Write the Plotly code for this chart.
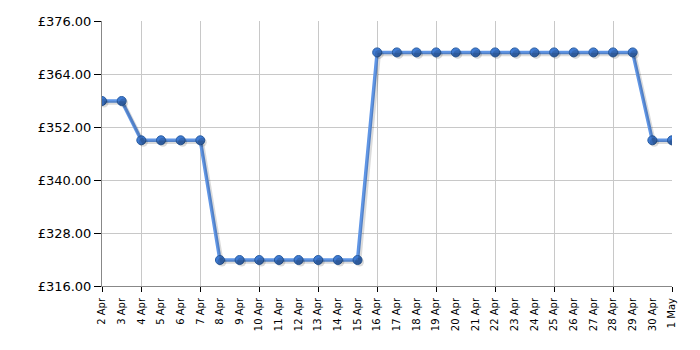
import plotly.graph_objects as go

dates = ["2 Apr", "3 Apr", "4 Apr", "5 Apr", "6 Apr", "7 Apr", "8 Apr", "9 Apr", "10 Apr",
         "11 Apr", "12 Apr", "13 Apr", "14 Apr", "15 Apr", "16 Apr", "17 Apr", "18 Apr",
         "19 Apr", "20 Apr", "21 Apr", "22 Apr", "23 Apr", "24 Apr", "25 Apr", "26 Apr",
         "27 Apr", "28 Apr", "29 Apr", "30 Apr", "1 May"]
prices = [357.89, 357.89, 348.99, 348.99, 348.99, 348.99, 321.89, 321.89, 321.89,
          321.89, 321.89, 321.89, 321.89, 321.89, 368.89, 368.89, 368.89, 368.89,
          368.89, 368.89, 368.89, 368.89, 368.89, 368.89, 368.89, 368.89, 368.89,
          368.89, 348.99, 348.99]
y_ticks = [316, 328, 340, 352, 364, 376]

idx = list(range(len(dates)))
grid_idx = [i for i in idx if i % 3 == 2 or i == 0]

W, H = 700, 350
ML, MR, MT, MB = 102, 28, 21, 64
pw, ph = W - ML - MR, H - MT - MB
xr = [0, len(dates) - 1]
yr = [316, 376]
# shadow offset (pixels)
dx = 2.0 * (xr[1] - xr[0]) / pw
dy = 2.0 * (yr[1] - yr[0]) / ph

fig = go.Figure()
fig.add_trace(go.Scatter(
    x=idx, y=prices, mode="lines+markers", xaxis="x2", yaxis="y2",
    line=dict(color="rgba(0,0,0,0.14)", width=3.5),
    marker=dict(size=9, color="rgba(0,0,0,0.14)"),
    hoverinfo="skip"))
fig.add_trace(go.Scatter(
    x=idx, y=prices, mode="lines+markers",
    line=dict(color="#6096e6", width=3.5),
    marker=dict(size=9, color="#3f7bd3", line=dict(color="#2c5fa3", width=1)),
    hoverinfo="skip"))

fig.update_layout(
    width=W, height=H,
    margin=dict(l=ML, r=MR, t=MT, b=MB),
    paper_bgcolor="white", plot_bgcolor="white",
    showlegend=False,
    font=dict(family="DejaVu Sans", color="#000000"),
    xaxis=dict(
        range=xr,
        tickmode="array", tickvals=idx, ticktext=dates,
        tickangle=-90, tickfont=dict(size=10, family="DejaVu Sans"),
        ticks="", showgrid=False, ticklabelstandoff=7,
        showline=True, linecolor="#888888", linewidth=1,
        minor=dict(tickmode="array", tickvals=grid_idx, showgrid=True,
                   gridcolor="#c8c8c8", gridwidth=1,
                   ticks="outside", ticklen=5, tickcolor="#000000"),
        zeroline=False,
    ),
    yaxis=dict(
        range=yr, tickmode="array", tickvals=y_ticks,
        ticktext=["£%.2f" % v for v in y_ticks],
        tickfont=dict(size=13, family="DejaVu Sans"),
        ticks="outside", ticklen=7, tickcolor="#000000",
        showgrid=True, gridcolor="#c8c8c8", gridwidth=1,
        showline=True, linecolor="#888888", linewidth=1,
        zeroline=False,
    ),
    xaxis2=dict(overlaying="x", range=[xr[0] - dx, xr[1] - dx], visible=False),
    yaxis2=dict(overlaying="y", range=[yr[0] + dy, yr[1] + dy], visible=False),
)
fig.write_html("out.html")
